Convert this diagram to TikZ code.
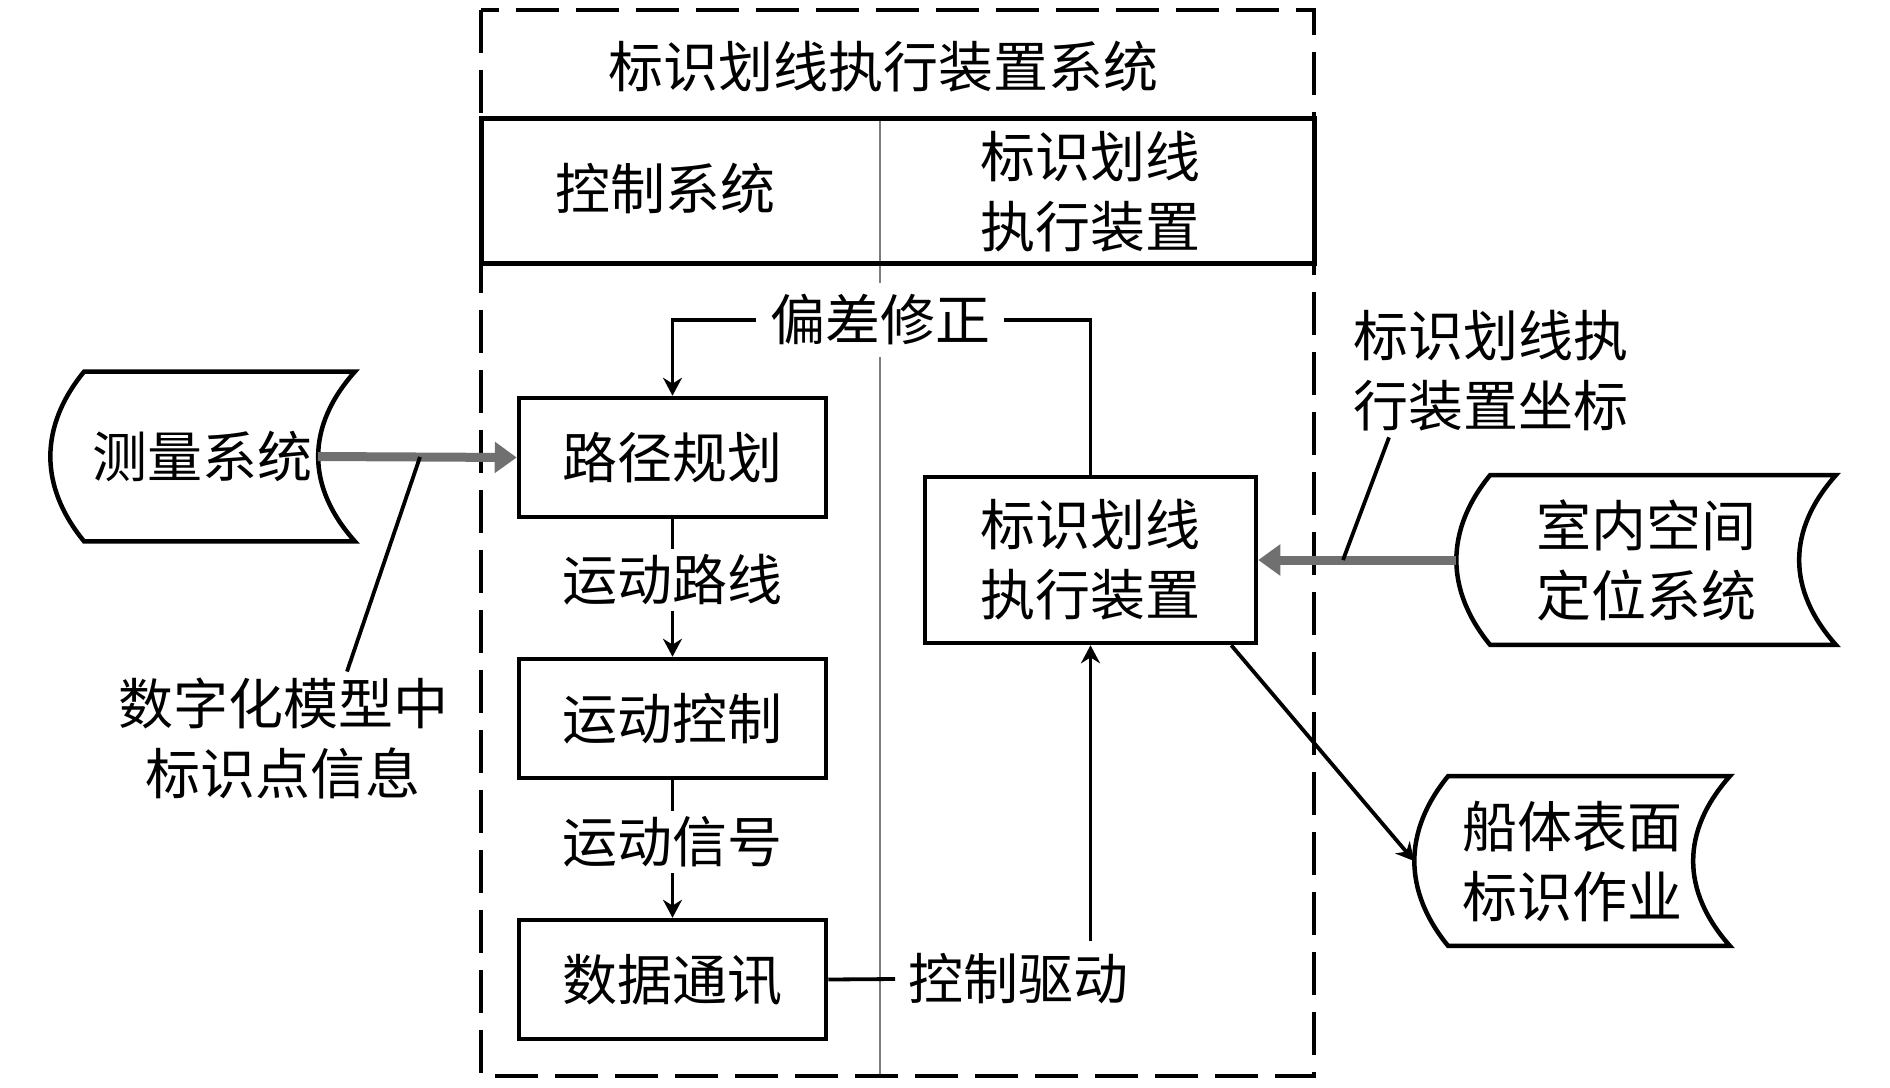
\documentclass[tikz,border=0pt]{standalone}
\usepackage{fontspec}
\setmainfont{Noto Sans CJK SC}
\usepackage{xcolor}
\definecolor{arrowgray}{RGB}{112,112,112}
\definecolor{dividegray}{RGB}{125,125,125}
\usepackage{tikz}
\usetikzlibrary{arrows.meta,positioning,calc}
\newcommand{\drw}[2]{\draw[->] (#1) -- (#2)}
\newcommand{\stor}[1]{\draw[line width=4.5pt]
  ([xshift=34pt]#1.north west) -- (#1.north east)
  .. controls ([xshift=-49pt,yshift=-55pt]#1.north east) and ([xshift=-49pt,yshift=55pt]#1.south east) .. (#1.south east)
  -- ([xshift=34pt]#1.south west)
  .. controls ([xshift=-11pt,yshift=55pt]#1.south west) and ([xshift=-11pt,yshift=-55pt]#1.north west) .. cycle}

\begin{document}
\begin{tikzpicture}[
      x=1pt,y=-1pt,
      >={Stealth[length=18pt,width=19pt]},
      node distance=261pt,
      font=\fontsize{55pt}{70pt}\selectfont,
      every path/.style={line width=3.8pt},
      block/.style={rectangle,draw,line width=4.5pt,minimum width=307pt,minimum height=119pt,inner sep=0pt},
      store/.style={rectangle,minimum height=166pt,inner sep=0pt,align=center},
      txt/.style={inner sep=4pt,align=center},
      fat/.style={line width=9pt,draw=arrowgray,-{Triangle[length=22pt,width=30pt]}}]

      \useasboundingbox (0,0) rectangle (1890,1087);

      % Frame
      \draw[dividegray,line width=2.5pt] (880,118) -- (880,1076);
      \draw[line width=4.5pt,dash pattern=on 43pt off 17pt] (481,10) rectangle (1314,1076);
      \node (sys) at (883,67) {标识划线执行装置系统};
      \draw[line width=5pt] (481,118) rectangle (1314,263);
      \node[txt] (ctl) at (665,188) {控制系统};
      \node[txt] (dev) at (1090,192) {标识划线\\执行装置};

      % Define nodes
      \node[block] (A) at (672.5,457.5) {路径规划};
      \node[block,below of=A] (B) {运动控制};
      \node[block,below of=B] (C) {数据通讯};
      \node[txt] (AB) at (672.5,580) {运动路线};
      \node[txt] (BC) at (672.5,842) {运动信号};
      \node[txt,fill=white,inner sep=12pt] (fix) at (880,320) {偏差修正};
      \node[txt,inner sep=11pt] (drv) at (1018,979) {控制驱动};
      \node[block,minimum width=331pt,minimum height=166pt,align=center] (E) at (1090.5,560) {标识划线\\执行装置};
      \node[store,minimum width=301pt] (M) at (202.5,456.5) {测量系统};
      \node[store,minimum width=376pt] (P) at (1646,560) {室内空间\\定位系统};
      \node[store,minimum width=312pt] (H) at (1572,861) {船体表面\\标识作业};
      \node[txt] (info) at (283,738) {数字化模型中\\标识点信息};
      \node[txt] (pos) at (1491,371) {标识划线执\\行装置坐标};
      \stor{M};
      \stor{P};
      \stor{H};

      % Draw paths
      \draw (A) -- (AB);
      \drw{AB}{B};
      \draw (B) -- (BC);
      \drw{BC}{C};
      \draw[->] (fix.west) -| (A.north);
      \draw (fix.east) -| (E.north);
      \draw (C.east) -- (drv.west);
      \drw{drv.north -| E}{E.south};
      \draw[->] ([xshift=-27pt]E.south east) -- (H.west);
      \draw[fat] ([xshift=-37pt]M.east) -- (A.west);
      \draw[fat] (P.west) -- (E.east);
      \draw (420,457) -- (info.north -| 347,0);
      \draw (pos.south -| 1389,0) -- (1343,560);
\end{tikzpicture}
\end{document}
